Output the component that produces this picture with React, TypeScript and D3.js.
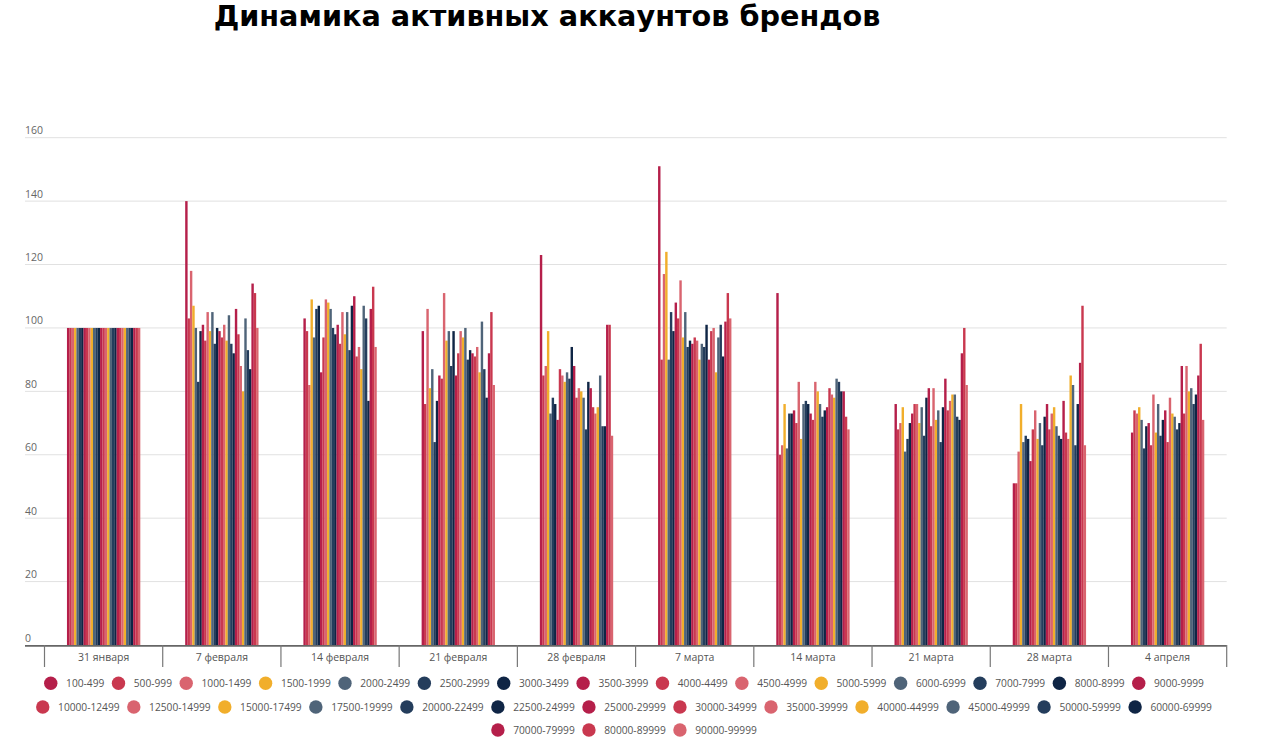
import React from "react";
import * as d3 from "d3";

const TITLE = "Динамика активных аккаунтов брендов";

const categories = [
  "31 января", "7 февраля", "14 февраля", "21 февраля", "28 февраля",
  "7 марта", "14 марта", "21 марта", "28 марта", "4 апреля",
];

const seriesNames = [
  "100-499", "500-999", "1000-1499", "1500-1999", "2000-2499", "2500-2999", "3000-3499",
  "3500-3999", "4000-4499", "4500-4999", "5000-5999", "6000-6999", "7000-7999", "8000-8999",
  "9000-9999", "10000-12499", "12500-14999", "15000-17499", "17500-19999", "20000-22499",
  "22500-24999", "25000-29999", "30000-34999", "35000-39999", "40000-44999", "45000-49999",
  "50000-59999", "60000-69999", "70000-79999", "80000-89999", "90000-99999",
];

const palette = ["#b51f4a", "#c9384f", "#d9646f", "#f1ae2b", "#4f6479", "#243d5c", "#0f2545"];

const v31Jan = [100,100,100,100,100,100,100,100,100,100,100,100,100,100,100,100,100,100,100,100,100,100,100,100,100,100,100,100,100,100,100];
const v7Feb = [140,103,118,107,100,83,99,101,96,105,99,105,95,100,99,97,101,96,104,95,92,106,98,88,80,103,93,87,114,111,100];
const v14Feb = [103,99,82,109,97,106,107,86,97,109,108,106,100,98,101,95,105,98,105,93,107,110,91,94,87,107,103,77,106,113,94];
const v21Feb = [99,76,106,81,87,64,77,85,84,111,96,99,88,99,85,92,99,97,100,90,93,92,91,94,86,102,87,78,92,105,82];
const v28Feb = [123,85,88,99,73,78,76,71,87,85,83,86,84,94,88,78,81,80,78,68,83,81,75,73,75,85,69,69,101,101,66];
const v7Mar = [151,90,117,124,90,105,99,108,103,115,97,105,94,96,95,97,96,90,95,94,101,90,99,100,86,97,101,91,102,111,103];
const v14Mar = [111,60,63,76,62,73,73,74,70,83,65,76,77,76,73,71,83,80,76,72,74,75,81,79,78,84,83,80,80,72,68];
const v21Mar = [76,68,70,75,61,65,70,73,76,76,70,75,66,78,81,69,81,71,74,64,75,84,74,77,79,79,72,71,92,100,82];
const v28Mar = [51,51,61,76,64,66,65,58,68,74,65,70,63,72,76,68,73,75,69,66,65,77,67,65,85,82,63,76,89,107,63];
const v4Apr = [67,74,73,75,71,62,69,70,63,79,67,76,66,71,74,64,78,73,72,68,70,88,73,88,80,81,76,79,85,95,71];

const valuesByDate = [v31Jan, v7Feb, v14Feb, v21Feb, v28Feb, v7Mar, v14Mar, v21Mar, v28Mar, v4Apr];

const yTicks = [0, 20, 40, 60, 80, 100, 120, 140, 160];

const W = 1280;
const H = 742;
const FONT = "'Open Sans', 'Noto Sans', sans-serif";

function measure(text: string, size: number): number {
  const c = document.createElement("canvas");
  const ctx = c.getContext("2d");
  if (!ctx) return text.length * size * 0.55;
  ctx.font = `${size}px 'Open Sans'`;
  return ctx.measureText(text).width;
}

export default function App() {
  const plotLeft = 44.5;
  const plotRight = 1226.7;
  const gridLeft = 25;
  const y = d3.scaleLinear().domain([0, 160]).range([645, 137.7]);
  const x0 = d3.scaleBand<string>().domain(categories).range([plotLeft, plotRight]).paddingInner(0.38).paddingOuter(0.19);
  const x1 = d3.scaleBand<string>().domain(seriesNames).range([0, x0.bandwidth()]).padding(0);
  const color = (i: number) => palette[i % palette.length];

  // legend layout
  const legendFont = 10.2;
  const r = 6.7;
  const itemPre = 22;
  const gap = 7.5;
  const maxW = 1200;
  const items = seriesNames.map((name, i) => ({ name, i, w: itemPre + measure(name, legendFont) }));
  const rows: { name: string; i: number; w: number }[][] = [];
  let cur: { name: string; i: number; w: number }[] = [];
  let curW = 0;
  items.forEach((it) => {
    const add = cur.length ? gap + it.w : it.w;
    if (cur.length && curW + add > maxW) {
      rows.push(cur);
      cur = [it];
      curW = it.w;
    } else {
      cur.push(it);
      curW += add;
    }
  });
  if (cur.length) rows.push(cur);
  const legendCenter = 624;
  const rowY = [683.3, 707, 730];

  const ticksX = categories.map((_, i) => plotLeft + i * x0.step());

  return (
    <svg width={W} height={H} style={{ position: "absolute", left: 0, top: 0, background: "#fff" }} fontFamily={FONT}>
      <text x={547} y={26} textAnchor="middle" fontFamily="'DejaVu Sans', sans-serif" fontWeight="bold" fontSize={28.7} fill="#000">
        {TITLE}
      </text>
      {yTicks.map((t) => (
        <g key={t}>
          {t > 0 && <line x1={gridLeft} x2={plotRight} y1={y(t)} y2={y(t)} stroke="#e1e1e1" strokeWidth={1} />}
          <text x={gridLeft} y={y(t) - 3.5} fontSize={10.5} fill="#666">
            {t}
          </text>
        </g>
      ))}
      {valuesByDate.map((vals, ci) => (
        <g key={categories[ci]} transform={`translate(${x0(categories[ci])},0)`}>
          {vals.map((v, si) => (
            <rect
              key={si}
              x={x1(seriesNames[si])}
              y={y(v)}
              width={x1.bandwidth() + 0.05}
              height={y(0) - y(v)}
              fill={color(si)}
            />
          ))}
        </g>
      ))}
      <line x1={gridLeft} x2={plotRight} y1={645.8} y2={645.8} stroke="#666" strokeWidth={1.8} />
      {[...ticksX, plotRight].map((tx, i) => (
        <line key={i} x1={tx} x2={tx} y1={645} y2={667} stroke="#777" strokeWidth={1.2} />
      ))}
      {categories.map((c) => (
        <text key={c} x={(x0(c) as number) + x0.bandwidth() / 2} y={660.5} textAnchor="middle" fontSize={10.5} fill="#555">
          {c}
        </text>
      ))}
      {rows.map((row, ri) => {
        const total = row.reduce((s, it) => s + it.w, 0) + gap * (row.length - 1);
        let xx = legendCenter - total / 2;
        return (
          <g key={ri}>
            {row.map((it) => {
              const gx = xx;
              xx += it.w + gap;
              return (
                <g key={it.name}>
                  <circle cx={gx + r} cy={rowY[ri]} r={r} fill={color(it.i)} />
                  <text x={gx + itemPre} y={rowY[ri] + 3.6} fontSize={legendFont} fill="#555">
                    {it.name}
                  </text>
                </g>
              );
            })}
          </g>
        );
      })}
    </svg>
  );
}
